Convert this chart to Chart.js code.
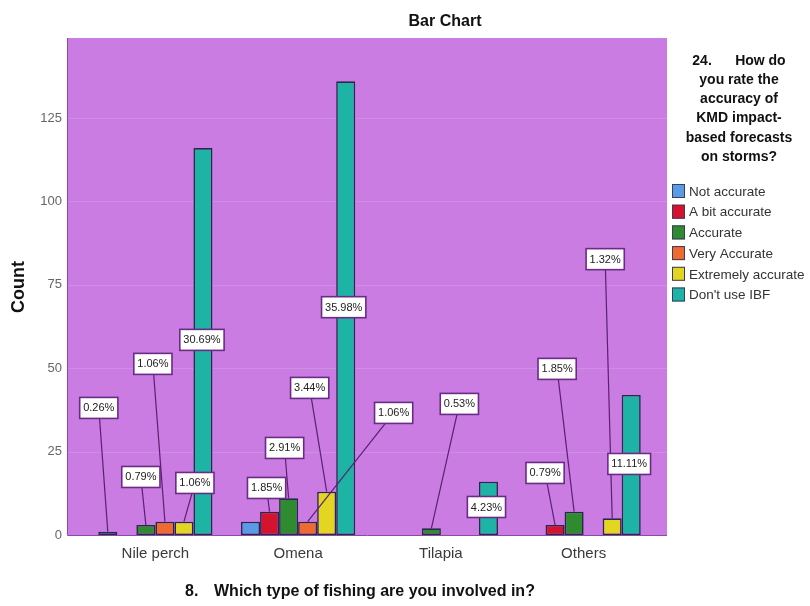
<!DOCTYPE html>
<html>
<head>
<meta charset="utf-8">
<title>Bar Chart</title>
<script src="https://cdn.jsdelivr.net/npm/chart.js@4.4.1/dist/chart.umd.min.js"></script>
<style>
  html, body { margin: 0; padding: 0; background: #fff; }
</style>
</head>
<body>
<canvas id="chart" width="810" height="606"></canvas>
<script>
// categories (x axis) and answer groups (legend)
const categories = ['Nile perch', 'Omena', 'Tilapia', 'Others'];
const ratings = ['Not accurate', 'A bit accurate', 'Accurate', 'Very Accurate', 'Extremely accurate', "Don't use IBF"];

// counts per category, null = no bar
const notAccurate       = [1, 4, null, null];
const aBitAccurate      = [null, 7, null, 3];
const accurate          = [3, 11, 2, 7];
const veryAccurate      = [4, 4, null, null];
const extremelyAccurate = [4, 13, null, 5];
const dontUseIBF        = [116, 136, 16, 42];

const yTicks = [0, 25, 50, 75, 100, 125];
const yMax = 149;

const colors = ['#5a9be6', '#d5132e', '#2e8b2f', '#ef6a2e', '#e4d523', '#1db4a6'];

// where each percent label box sits: [x shift from bar in px, height in count units]
const labelPlacement = [
  [[-9, 38.1], null, null, null],
  [null, [-3, 14.1], null, [-10, 18.6]],
  [[-5, 17.4], [-4, 26.1], [28, 39.3], [-17, 49.8]],
  [[-12, 51.3], [86, 36.6], null, null],
  [[11, 15.6], [-17, 44.1], null, [-7, 82.7]],
  [[-1, 58.5], [-2, 68.3], [-2, 8.4], [-2, 21.3]]
];

const series = [notAccurate, aBitAccurate, accurate, veryAccurate, extremelyAccurate, dontUseIBF];
const total = series.flat().reduce((a, b) => a + (b || 0), 0);

const FONT = '"Liberation Sans", Arial, sans-serif';
Chart.defaults.font.family = FONT;

const legendTitle = ['24.      How do', 'you rate the', 'accuracy of', 'KMD impact-', 'based forecasts', 'on storms?'];

const backdrop = {
  id: 'backdrop',
  beforeDraw(chart) {
    const { ctx, chartArea: a, scales: { y } } = chart;
    const left = a.left - 17, right = a.right + 12;
    ctx.save();
    ctx.fillStyle = '#fff';
    ctx.fillRect(0, 0, chart.width, chart.height);
    ctx.fillStyle = '#ca7ce2';
    ctx.fillRect(left, a.top, right - left, a.bottom - a.top);
    // faint grid lines
    ctx.strokeStyle = 'rgba(255,255,255,0.13)';
    ctx.lineWidth = 1;
    yTicks.forEach(t => {
      if (t === 0) return;
      const py = Math.round(y.getPixelForValue(t)) + 0.5;
      ctx.beginPath(); ctx.moveTo(left, py); ctx.lineTo(right, py); ctx.stroke();
    });
    ctx.strokeStyle = '#8c4aa3';
    ctx.beginPath();
    ctx.moveTo(left + 0.5, a.top); ctx.lineTo(left + 0.5, a.bottom + 0.5); ctx.lineTo(right, a.bottom + 0.5);
    ctx.stroke();
    ctx.restore();
  }
};

const percentLabels = {
  id: 'percentLabels',
  afterDatasetsDraw(chart) {
    const { ctx, scales: { y } } = chart;
    ctx.save();
    ctx.font = '11px ' + FONT;
    ctx.textAlign = 'center';
    ctx.textBaseline = 'middle';
    chart.data.datasets.forEach((ds, i) => {
      const meta = chart.getDatasetMeta(i);
      meta.data.forEach((bar, j) => {
        const v = ds.data[j];
        const place = labelPlacement[i][j];
        if (v == null || !place) return;
        const bx = bar.x + place[0];
        const by = y.getPixelForValue(place[1]);
        if (place[1] > v) {
          ctx.strokeStyle = '#5a2170';
          ctx.lineWidth = 1.2;
          ctx.beginPath(); ctx.moveTo(bar.x, bar.y); ctx.lineTo(bx, by); ctx.stroke();
        }
        const txt = (v / total * 100).toFixed(2) + '%';
        const w = ctx.measureText(txt).width + 7, h = 21;
        ctx.fillStyle = '#fff';
        ctx.fillRect(bx - w / 2, by - h / 2, w, h);
        ctx.strokeStyle = '#6a2b84';
        ctx.lineWidth = 1.6;
        ctx.strokeRect(bx - w / 2, by - h / 2, w, h);
        ctx.fillStyle = '#222';
        ctx.fillText(txt, bx, by + 0.5);
      });
    });
    ctx.restore();
  }
};

const texts = {
  id: 'texts',
  afterDraw(chart) {
    const { ctx } = chart;
    ctx.save();
    ctx.fillStyle = '#111';
    ctx.textAlign = 'center';
    ctx.textBaseline = 'middle';
    ctx.font = 'bold 16px ' + FONT;
    ctx.fillText('Bar Chart', 445, 22);

    // x axis title
    ctx.textAlign = 'left';
    ctx.fillText('8.', 185, 592);
    ctx.fillText('Which type of fishing are you involved in?', 214, 592);

    // y axis title
    ctx.save();
    ctx.translate(19, 287);
    ctx.rotate(-Math.PI / 2);
    ctx.textAlign = 'center';
    ctx.font = 'bold 18px ' + FONT;
    ctx.fillText('Count', 0, 0);
    ctx.restore();

    // legend
    ctx.textAlign = 'center';
    ctx.font = 'bold 14px ' + FONT;
    legendTitle.forEach((line, k) => ctx.fillText(line, 739, 61 + k * 19.2));
    ctx.textAlign = 'left';
    ctx.font = '13.5px ' + FONT;
    ratings.forEach((r, k) => {
      const cy = 191 + k * 20.7;
      ctx.fillStyle = colors[k];
      ctx.fillRect(672, cy - 7, 13, 14);
      ctx.strokeStyle = '#3b3b5c';
      ctx.lineWidth = 1;
      ctx.strokeRect(672.5, cy - 6.5, 12, 13);
      ctx.fillStyle = '#333';
      ctx.fillText(r, 689, cy + 1);
    });
    ctx.restore();
  }
};

new Chart(document.getElementById('chart'), {
  type: 'bar',
  data: {
    labels: categories,
    datasets: ratings.map((r, i) => ({
      label: r,
      data: series[i],
      backgroundColor: colors[i],
      borderColor: '#28284e',
      borderWidth: 1.6,
      borderSkipped: false,
      categoryPercentage: 0.8,
      barPercentage: 1.0
    }))
  },
  options: {
    responsive: false,
    animation: false,
    layout: { padding: { top: 38, right: 155, left: 0, bottom: 0 } },
    plugins: {
      legend: { display: false },
      title: { display: false },
      tooltip: { enabled: false }
    },
    scales: {
      x: {
        grid: { display: false, drawTicks: false },
        border: { display: false },
        ticks: { color: '#3a3a3a', font: { size: 15 }, padding: 10 },
        afterFit(s) { s.height = 71; }
      },
      y: {
        min: 0,
        max: yMax,
        grid: { display: false, drawTicks: false },
        border: { display: false },
        ticks: { color: '#666', font: { size: 13 }, padding: 22 },
        afterBuildTicks(s) { s.ticks = yTicks.map(v => ({ value: v })); },
        afterFit(s) { s.width = 84; }
      }
    }
  },
  plugins: [backdrop, percentLabels, texts]
});
</script>
</body>
</html>
